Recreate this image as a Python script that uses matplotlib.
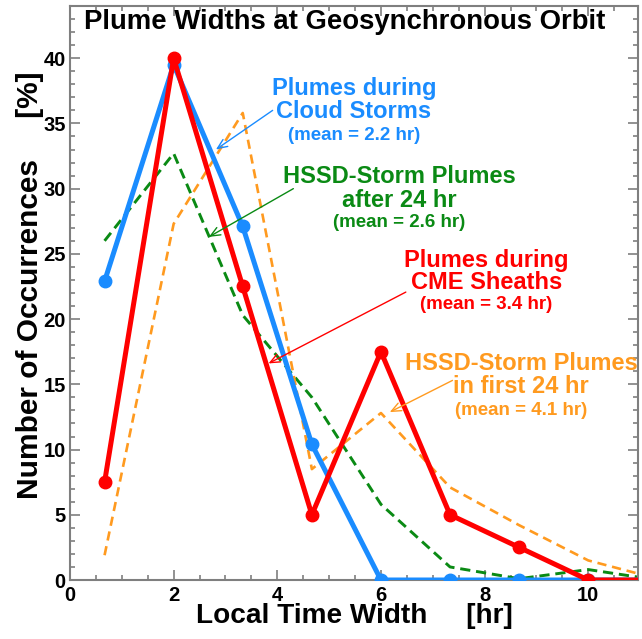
import matplotlib
matplotlib.use("Agg")
import matplotlib.pyplot as plt
from matplotlib.ticker import MultipleLocator

plt.rcParams['font.family'] = ['Liberation Sans', 'DejaVu Sans']
plt.rcParams['font.weight'] = 'bold'

# bin centres (hr)
x_bins = [0.667, 2.0, 3.333, 4.667, 6.0, 7.333, 8.667, 10.0, 11.333]

cloud_storms = [22.9, 39.5, 27.1, 10.4, 0.0, 0.0, 0.0, 0.0, 0.0]
cme_sheaths = [7.5, 40.0, 22.5, 5.0, 17.5, 5.0, 2.5, 0.0, 0.0]
hssd_after24 = [26.0, 32.7, 20.3, 14.0, 5.8, 1.0, 0.1, 0.8, 0.0]
hssd_first24 = [1.9, 27.3, 35.8, 8.5, 12.8, 7.1, 4.2, 1.5, 0.1]

c_blue = '#1a8cff'
c_red = '#ff0000'
c_green = '#0a8a14'
c_orange = '#ff9a1f'
c_spine = '#7f7f7f'

fig = plt.figure(figsize=(6.42, 6.39), dpi=100)
ax = fig.add_axes([70/642, 1-580/639, 568/642, 574/639])

ax.plot(x_bins, hssd_after24, color=c_green, lw=2.1, dashes=(3.5, 2.0), zorder=2)
ax.plot(x_bins, hssd_first24, color=c_orange, lw=1.9, dashes=(3.5, 2.2), zorder=2)
ax.plot(x_bins, cloud_storms, color=c_blue, lw=3.6, marker='o', ms=9, zorder=3)
ax.plot(x_bins, cme_sheaths, color=c_red, lw=3.6, marker='o', ms=9, zorder=4)

ax.set_xlim(0, 10.96)
ax.set_ylim(0, 44)

ax.xaxis.set_major_locator(MultipleLocator(2))
ax.xaxis.set_minor_locator(MultipleLocator(0.5))
ax.yaxis.set_major_locator(MultipleLocator(5))
ax.yaxis.set_minor_locator(MultipleLocator(1))
ax.tick_params(which='both', direction='in', top=True, right=True, color=c_spine, width=1.2)
ax.tick_params(which='major', length=7, labelsize=14.5, pad=3)
ax.tick_params(which='minor', length=3.5)
ax.tick_params(axis='x', which='major', pad=4)
for lab in ax.get_xticklabels() + ax.get_yticklabels():
    lab.set_fontweight('bold')
for sp in ax.spines.values():
    sp.set_color(c_spine)
    sp.set_linewidth(1.5)

ax.set_xlabel('Local Time Width     [hr]', fontsize=20.2, fontweight='bold')
ax.set_ylabel('Number of Occurrences     [%]', fontsize=21.5, fontweight='bold')
ax.xaxis.set_label_coords(0.5, -0.04)
ax.yaxis.set_label_coords(-0.046, 0.514)

fig.text(345/642, 1-22/639, 'Plume Widths at Geosynchronous Orbit',
         ha='center', va='center', fontsize=19.8, fontweight='bold', color='black')

def label(x, ys, lines, sizes, color):
    for y, t, s in zip(ys, lines, sizes):
        ax.text(x, y, t, ha='center', va='center', fontsize=s, fontweight='bold', color=color, zorder=6)

big, small = 17, 13.5
label(5.48, [37.7, 35.9, 34.1], ['Plumes during', 'Cloud Storms', '(mean = 2.2 hr)'], [big, big, small], c_blue)
label(6.36, [30.96, 29.1, 27.4], ['HSSD-Storm Plumes', 'after 24 hr', '(mean = 2.6 hr)'], [big, big, small], c_green)
label(8.03, [24.5, 22.8, 21.1], ['Plumes during', 'CME Sheaths', '(mean = 3.4 hr)'], [big, big, small], c_red)
label(8.70, [16.6, 14.8, 13.0], ['HSSD-Storm Plumes', 'in first 24 hr', '(mean = 4.1 hr)'], [big, big, small], c_orange)

def arrow(tail, head, color):
    ax.annotate('', xy=head, xytext=tail,
                arrowprops=dict(arrowstyle='->,head_length=0.7,head_width=0.3', color=color, lw=1.0,
                                shrinkA=0, shrinkB=0), zorder=6)

arrow((3.91, 36.0), (2.816, 33.0), c_blue)
arrow((4.31, 30.0), (2.68, 26.3), c_green)
arrow((6.48, 22.07), (3.83, 16.6), c_red)
arrow((7.38, 15.3), (6.17, 12.87), c_orange)

fig.savefig('out.png', dpi=100)
